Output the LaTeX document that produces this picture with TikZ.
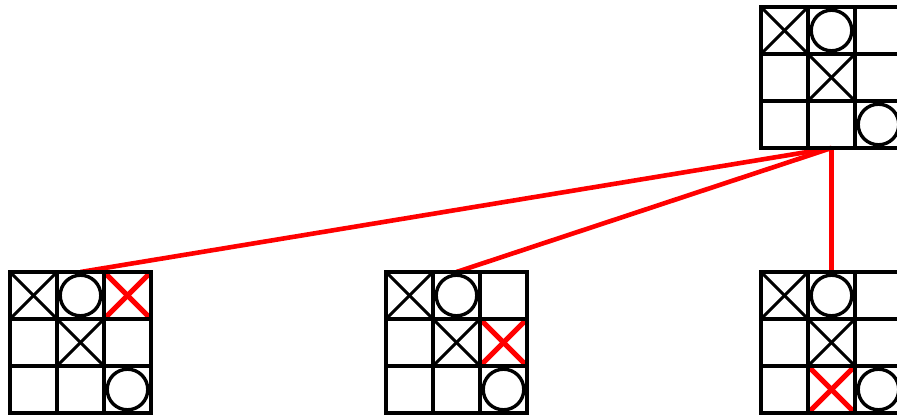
\documentclass[tikz,border=0pt]{standalone}
\usetikzlibrary{calc}
\begin{document}
\begin{tikzpicture}[x=1pt,y=-1pt,
  boardbox/.style={draw=none,minimum width=141pt,minimum height=141pt,inner sep=0pt,outer sep=0pt},
  gridline/.style={line width=3.8pt,line cap=rect},
  xline/.style={line width=3pt},
  redx/.style={line width=5pt,red},
  oline/.style={line width=3.4pt},
  edge/.style={line width=4.6pt,red}]
\useasboundingbox (0,0) rectangle (897,417);
\def\cs{47}
\newcommand\boardgrid[1]{%
  \foreach \i in {0,1,2,3} {
    \draw[gridline] ($(#1.north west)+(\i*\cs,0)$) -- ++(0,141);
    \draw[gridline] ($(#1.north west)+(0,\i*\cs)$) -- ++(141,0);
  }}
\newcommand\xcell[3]{%
  \draw[xline] ($(#1.north west)+(#2*\cs,#3*\cs)$) -- ++(\cs,\cs);
  \draw[xline] ($(#1.north west)+(#2*\cs+\cs,#3*\cs)$) -- ++(-\cs,\cs);}
\newcommand\rxcell[3]{%
  \draw[redx] ($(#1.north west)+(#2*\cs+1.5,#3*\cs+1.5)$) -- ++(\cs-3,\cs-3);
  \draw[redx] ($(#1.north west)+(#2*\cs+\cs-1.5,#3*\cs+1.5)$) -- ++(-\cs+3,\cs-3);}
\newcommand\ocell[3]{%
  \draw[oline] ($(#1.north west)+(#2*\cs+23.5,#3*\cs+23.5)$) circle[radius=20.3];}
\node[boardbox] (top) at (831.5,77.5) {};
\node[boardbox] (b1) at (80.5,342.5) {};
\node[boardbox] (b2) at (456.5,342.5) {};
\node[boardbox] (b3) at (831.5,342.5) {};
\draw[edge] (top.south) -- (b1.north);
\draw[edge] (top.south) -- (b2.north);
\draw[edge] (top.south) -- (b3.north);
\foreach \b in {top,b1,b2,b3} {
  \xcell{\b}{0}{0}
  \ocell{\b}{1}{0}
  \xcell{\b}{1}{1}
  \ocell{\b}{2}{2}
}
\rxcell{b1}{2}{0}
\rxcell{b2}{2}{1}
\rxcell{b3}{1}{2}
\foreach \b in {top,b1,b2,b3} {\boardgrid{\b}}
\end{tikzpicture}
\end{document}
